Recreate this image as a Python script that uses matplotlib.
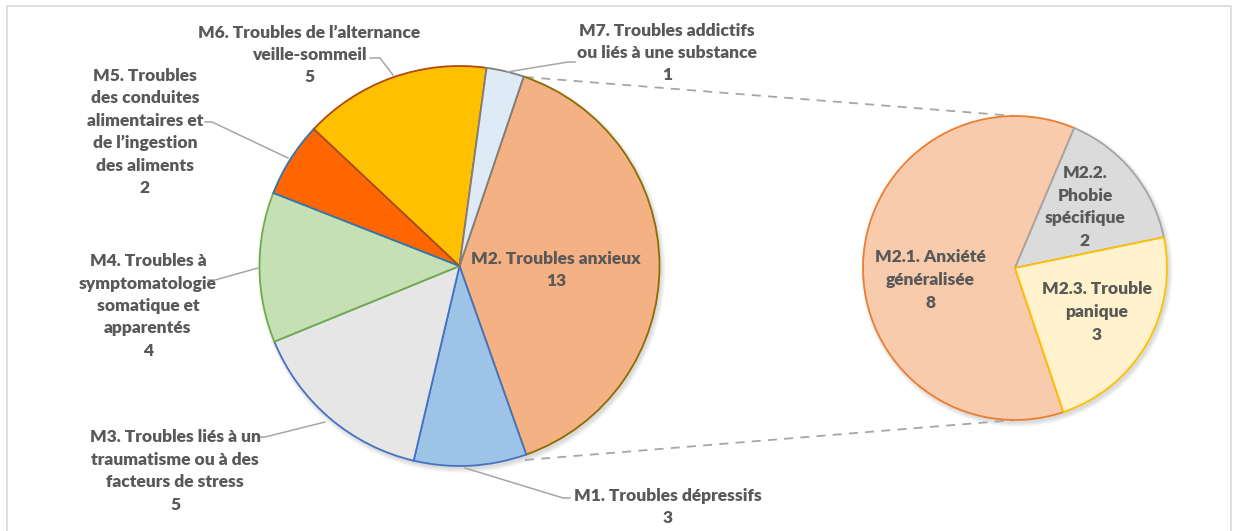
import matplotlib.pyplot as plt
from matplotlib.patches import Rectangle, Circle

# main pie, listed clockwise starting with the split slice
main_labels = [
    "M2. Troubles anxieux",
    "M1. Troubles dépressifs",
    "M3. Troubles liés à un\ntraumatisme ou à des\nfacteurs de stress",
    "M4. Troubles à\nsymptomatologie\nsomatique et\napparentés",
    "M5. Troubles\ndes conduites\nalimentaires et\nde l’ingestion\ndes aliments",
    "M6. Troubles de l’alternance\nveille-sommeil",
    "M7. Troubles addictifs\nou liés à une substance",
]
main_values = [13, 3, 5, 4, 2, 5, 1]

# second pie (detail of M2)
sub_labels = ["M2.1. Anxiété\ngénéralisée", "M2.2.\nPhobie\nspécifique", "M2.3. Trouble\npanique"]
sub_values = [8, 2, 3]

main_fill = ["#F4B183", "#9DC3E6", "#E6E6E6", "#C5E0B4", "#FF6600", "#FFC000", "#DEEBF7"]
main_edge = ["#8C6D00", "#4472C4", "#4472C4", "#70AD47", "#2E75B6", "#B4480F", "#7F7F7F"]
sub_fill = ["#F8CBAD", "#DBDBDB", "#FFF2CC"]
sub_edge = ["#ED7D31", "#A5A5A5", "#FFC000"]

W, H = 1236, 531
TXT = "#595959"
FONT = ["Lato", "DejaVu Sans"]


def Y(y):
    # image row -> data y
    return H - y


fig = plt.figure(figsize=(W / 100, H / 100), dpi=100)
ax = fig.add_axes([0, 0, 1, 1])

ax.add_patch(Rectangle((7, -5), 1224, Y(6) + 5, fill=False, edgecolor="#D9D9D9", lw=1.2))

c_main, r_main = (459.5, Y(266)), 200
c_sub, r_sub = (1015, Y(268)), 152

# soft shadows
for k in range(6):
    for (cx, cy), r in [(c_main, r_main), (c_sub, r_sub)]:
        ax.add_patch(Circle((cx + 2, cy - 3), r + k * 0.8, color="black", alpha=0.025, lw=0, zorder=1))

start_main = 90 - 18.7
wedges, _ = ax.pie(main_values, center=c_main, radius=r_main, startangle=start_main,
                   counterclock=False, colors=main_fill, frame=True)
for w, ec in zip(wedges, main_edge):
    w.set_edgecolor(ec)
    w.set_linewidth(1.3)
    w.set_zorder(3)

start_sub = 90 - 161.4
swedges, _ = ax.pie(sub_values, center=c_sub, radius=r_sub, startangle=start_sub,
                    counterclock=False, colors=sub_fill, frame=True)
for w, ec in zip(swedges, sub_edge):
    w.set_edgecolor(ec)
    w.set_linewidth(1.3)
    w.set_zorder(3)

ax.set_xlim(0, W)
ax.set_ylim(0, H)
ax.set_aspect("equal")
ax.axis("off")

# connector lines between the two pies
ax.plot([525, 1015], [Y(77), Y(116)], ls=(0, (5, 4)), color="#A6A6A6", lw=1.3, zorder=2)
ax.plot([525, 1015], [Y(460), Y(420)], ls=(0, (5, 4)), color="#A6A6A6", lw=1.3, zorder=2)

fs = 12.5
kw = dict(ha="center", va="center", color=TXT, fontsize=fs, fontweight=800,
          family=FONT, linespacing=1.5, zorder=5)

# label anchors (image pixels) and leader lines
main_pos = [(556, 270), (668, 507), (175, 471), (148, 306), (145, 132), (309, 55), (667, 53)]
leaders = [
    None,
    [(465, 468), (563, 498), (570, 498)],
    [(325, 422), (265, 437), (258, 437)],
    [(258, 268), (215, 280), (208, 280)],
    [(288, 158), (212, 122), (205, 122)],
    [(393, 75), (380, 58), (370, 58)],
    [(507, 72), (568, 62), (575, 62)],
]

for lab, v, (x, y), ld in zip(main_labels, main_values, main_pos, leaders):
    ax.text(x, Y(y), f"{lab}\n{v}", **kw)
    if ld:
        ax.plot([p[0] for p in ld], [Y(p[1]) for p in ld], color="#A6A6A6", lw=1.1, zorder=4)

sub_pos = [(930, 280), (1085, 207), (1097, 312)]
for lab, v, (x, y) in zip(sub_labels, sub_values, sub_pos):
    ax.text(x, Y(y), f"{lab}\n{v}", **kw)

fig.savefig("out.png", dpi=100)
